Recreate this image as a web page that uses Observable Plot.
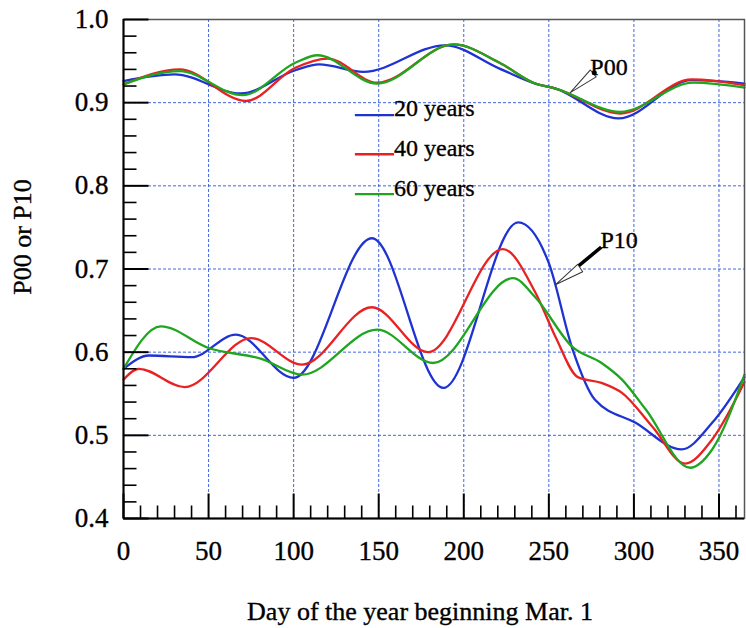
<!DOCTYPE html>
<html><head><meta charset="utf-8">
<script src="https://cdn.jsdelivr.net/npm/d3@7"></script>
<script src="https://cdn.jsdelivr.net/npm/@observablehq/plot@0.6"></script>
<style>
html,body{margin:0;padding:0;background:#fff;}
svg text{font-family:"Liberation Serif","Times New Roman",serif !important;font-variant:normal !important;stroke:#000;stroke-width:0.35px;}
</style>
</head><body><div id="chart"></div>
<script>
// ---- data ----
const seriesNames = ["20 years", "40 years", "60 years"];
const seriesColors = ["#1f33d2", "#e82222", "#1fa51f"];

// P00 curves: [day, probability]
const p00_20 = [[0,0.926],[30,0.934],[69,0.911],[101,0.939],[115,0.946],[141,0.937],[189,0.969],[221,0.941],[242,0.923],[254,0.917],[291,0.881],[334,0.927],[365,0.923]];
const p00_40 = [[0,0.922],[33,0.940],[72,0.902],[101,0.942],[120,0.953],[149,0.924],[194,0.970],[221,0.948],[242,0.923],[254,0.917],[292,0.887],[334,0.928],[365,0.921]];
const p00_60 = [[0,0.922],[33,0.938],[70,0.909],[101,0.948],[114,0.957],[149,0.923],[194,0.970],[221,0.948],[242,0.923],[254,0.917],[292,0.889],[335,0.924],[365,0.918]];

// P10 curves: [day, probability]
const p10_20 = [[0,0.580],[15,0.596],[40,0.594],[66,0.621],[100,0.569],[146,0.737],[188,0.557],[232,0.756],[250,0.707],[264,0.603],[277,0.543],[301,0.515],[328,0.483],[346,0.515],[365,0.570]];
const p10_40 = [[0,0.567],[9,0.580],[36,0.558],[75,0.617],[105,0.585],[146,0.654],[179,0.600],[223,0.724],[242,0.672],[254,0.618],[267,0.570],[281,0.563],[293,0.551],[311,0.510],[330,0.466],[346,0.495],[365,0.564]];
const p10_60 = [[0,0.580],[22,0.631],[50,0.605],[81,0.592],[105,0.573],[149,0.627],[182,0.587],[229,0.689],[242,0.666],[264,0.606],[281,0.587],[293,0.567],[307,0.531],[333,0.461],[346,0.483],[365,0.573]];

const xTicks = [0, 50, 100, 150, 200, 250, 300, 350];
const yTicks = [0.4, 0.5, 0.6, 0.7, 0.8, 0.9, 1.0];
const xMinor = [10,20,30,40,60,70,80,90,110,120,130,140,160,170,180,190,210,220,230,240,260,270,280,290,310,320,330,340,360];
const yMinor = [0.42,0.44,0.46,0.48,0.52,0.54,0.56,0.58,0.62,0.64,0.66,0.68,0.72,0.74,0.76,0.78,0.82,0.84,0.86,0.88,0.92,0.94,0.96,0.98];

const annotations = [
  {label: "P00", textDay: 274.4, textVal: 0.942, tipDay: 262.6, tipVal: 0.912, angle: 50, dotDay: 276.7, dotVal: 0.936},
  {label: "P10", textDay: 280.3, textVal: 0.735, tipDay: 253.8, tipVal: 0.681, angle: 56, shaftDay1: 267.3, shaftVal1: 0.7035, shaftDay2: 280.8, shaftVal2: 0.7263}
];

// ---- build table ----
const groups = [
  {group: "P00", series: [p00_20, p00_40, p00_60]},
  {group: "P10", series: [p10_20, p10_40, p10_60]}
];
const rows = [];
for (const g of groups) g.series.forEach((arr, i) => {
  for (const [day, value] of arr) rows.push({day, value, series: seriesNames[i], key: g.group + i});
});

const legendRows = seriesNames.map((s, i) => ({series: s, lineY: [0.885, 0.838, 0.790][i], textY: [0.893, 0.845, 0.797][i]}));

const FONT = "Liberation Serif";
const tickShape = {draw(ctx, l) { ctx.moveTo(0, 0); ctx.lineTo(0, -l); }};
const headShape = {draw(ctx, l, r) { ctx.moveTo(0, 0); ctx.lineTo(r, -l); ctx.lineTo(-r, -l); ctx.closePath(); }};
const gridStyle = {stroke: "#2f55e0", strokeOpacity: 0.9, strokeDasharray: "3,2", strokeWidth: 1};

const chart = Plot.plot({
  width: 746, height: 628,
  marginLeft: 123, marginRight: 2, marginTop: 19, marginBottom: 110,
  style: {fontFamily: FONT, background: "#fff", color: "#000"},
  x: {domain: [0, 365]},
  y: {domain: [0.4, 1.0]},
  color: {domain: seriesNames, range: seriesColors},
  marks: [
    Plot.gridX(xTicks.filter(d => d > 0), gridStyle),
    Plot.gridY(yTicks.filter(d => d > 0.4 && d < 1.0), gridStyle),
    Plot.line(rows, {x: "day", y: "value", z: "key", stroke: "series", strokeWidth: 2.3, curve: "monotone-x"}),
    Plot.frame({stroke: "#555", strokeWidth: 1.5}),
    Plot.ruleX([0], {stroke: "#000", strokeWidth: 2}),
    Plot.ruleY([0.4], {stroke: "#000", strokeWidth: 2}),
    // inward ticks
    Plot.vector(yTicks, {x: 0, y: d => d, length: 25, rotate: 90, anchor: "start", shape: tickShape, stroke: "#000", strokeWidth: 2, strokeLinecap: "butt"}),
    Plot.vector(yMinor, {x: 0, y: d => d, length: 13, rotate: 90, anchor: "start", shape: tickShape, stroke: "#000", strokeWidth: 1.6, strokeLinecap: "butt"}),
    Plot.vector(xTicks, {x: d => d, y: 0.4, length: 25, rotate: 0, anchor: "start", shape: tickShape, stroke: "#000", strokeWidth: 2, strokeLinecap: "butt"}),
    Plot.vector(xMinor, {x: d => d, y: 0.4, length: 13, rotate: 0, anchor: "start", shape: tickShape, stroke: "#000", strokeWidth: 1.6, strokeLinecap: "butt"}),
    // tick labels
    Plot.axisX({ticks: xTicks, tickSize: 0, tickPadding: 22, fontSize: 27, fontFamily: FONT, label: null}),
    Plot.axisY({ticks: yTicks, tickSize: 0, tickPadding: 15, fontSize: 27, fontFamily: FONT, tickFormat: d3.format(".1f"), label: null}),
    // axis titles
    Plot.text(["P00 or P10"], {text: d => d, frameAnchor: "left", textAnchor: "middle", rotate: -90, dx: -101, dy: -32, fontSize: 26, fontFamily: FONT}),
    Plot.text(["Day of the year beginning Mar. 1"], {text: d => d, frameAnchor: "bottom", textAnchor: "middle", lineAnchor: "bottom", dx: -14, dy: 101, fontSize: 26, fontFamily: FONT}),
    // legend
    Plot.link(legendRows, {x1: 136, x2: 159, y1: "lineY", y2: "lineY", stroke: "series", strokeWidth: 2.3}),
    Plot.text(legendRows, {x: 159, y: "textY", text: "series", textAnchor: "start", fontSize: 24, fontFamily: FONT}),
    // annotations
    Plot.text(annotations, {x: "textDay", y: "textVal", text: "label", textAnchor: "start", fontSize: 24, fontFamily: FONT}),
    Plot.link(annotations.filter(d => d.shaftDay1 != null), {x1: "shaftDay1", y1: "shaftVal1", x2: "shaftDay2", y2: "shaftVal2", stroke: "#000", strokeWidth: 3.5}),
    Plot.vector(annotations, {x: "tipDay", y: "tipVal", length: 30, r: 4.5, rotate: "angle", anchor: "start", shape: headShape, fill: "#fff", stroke: "#333", strokeWidth: 1}),
    Plot.dot(annotations.filter(d => d.dotDay != null), {x: "dotDay", y: "dotVal", r: 2.5, fill: "#000", stroke: null})
  ]
});
document.getElementById("chart").appendChild(chart);
</script>
</body></html>
